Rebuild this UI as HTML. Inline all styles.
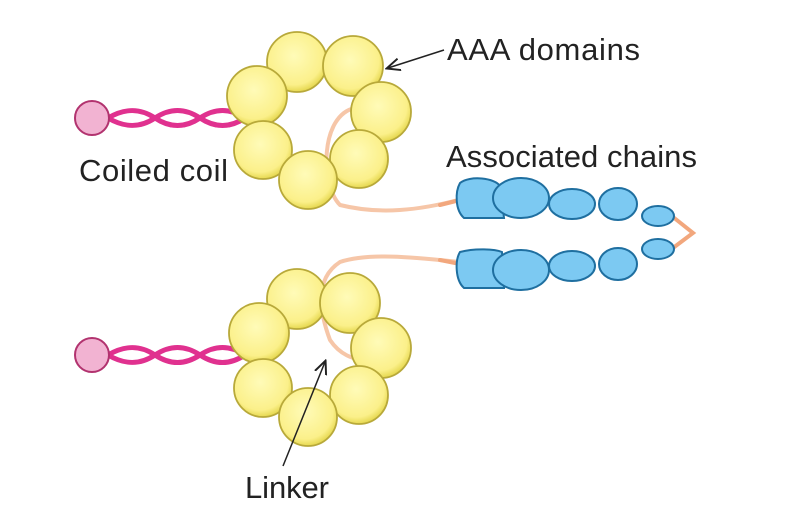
<html><body style="margin:0;background:#fff">
<svg width="787" height="530" viewBox="0 0 787 530" xmlns="http://www.w3.org/2000/svg" font-family="Liberation Sans, sans-serif">
<defs>
<radialGradient id="y" cx="0.45" cy="0.4" r="0.6"><stop offset="0" stop-color="#fffbb8"/><stop offset="0.8" stop-color="#fbf08a"/><stop offset="1" stop-color="#e6d850"/></radialGradient>
<marker id="a" markerWidth="10" markerHeight="10" refX="8" refY="5" orient="auto"><path d="M0,1 L9,5 L0,9" fill="none" stroke="#222" stroke-width="1.3"/></marker>
</defs>
<g fill="none" stroke-linecap="round">
<path d="M355,108 C320,115 320,185 340,205 C380,215 420,210 458,200" stroke="#f6c6a8" stroke-width="4"/>
<path d="M460,262 C420,258 370,252 340,262 C320,275 315,300 330,340 C340,355 355,360 360,358" stroke="#f6c6a8" stroke-width="4"/>
<path d="M440,205 L460,200 M440,260 L460,264 M673,217 L693,233 L673,248" stroke="#f2a77d" stroke-width="4"/>
<g stroke="#e0318f" stroke-width="5">
<path d="M108,118 C125,108 140,108 155,118 S185,128 200,118 S230,108 245,118"/>
<path d="M108,118 C125,128 140,128 155,118 S185,108 200,118 S230,128 245,118"/>
<path d="M108,355 C125,345 140,345 155,355 S185,365 200,355 S230,345 245,355"/>
<path d="M108,355 C125,365 140,365 155,355 S185,345 200,355 S230,365 245,355"/>
</g>
</g>
<g fill="#f2b3d2" stroke="#b2336f" stroke-width="2"><circle cx="92" cy="118" r="17"/><circle cx="92" cy="355" r="17"/></g>
<g fill="url(#y)" stroke="#b8a93a" stroke-width="1.8">
<circle cx="297" cy="62" r="30"/><circle cx="353" cy="66" r="30"/><circle cx="257" cy="96" r="30"/><circle cx="381" cy="112" r="30"/><circle cx="359" cy="159" r="29"/><circle cx="263" cy="150" r="29"/><circle cx="308" cy="180" r="29"/>
<circle cx="297" cy="299" r="30"/><circle cx="350" cy="303" r="30"/><circle cx="259" cy="333" r="30"/><circle cx="381" cy="348" r="30"/><circle cx="359" cy="395" r="29"/><circle cx="263" cy="388" r="29"/><circle cx="308" cy="417" r="29"/>
</g>
<g fill="#7cc9f2" stroke="#1f6fa0" stroke-width="2">
<path d="M460,183 C470,175 495,178 500,186 L504,218 L464,218 C455,210 455,192 460,183Z"/>
<ellipse cx="521" cy="198" rx="28" ry="20"/><ellipse cx="572" cy="204" rx="23" ry="15"/><ellipse cx="618" cy="204" rx="19" ry="16"/><ellipse cx="658" cy="216" rx="16" ry="10"/>
<path d="M460,252 C475,248 495,249 502,252 L504,288 L464,288 C455,280 455,260 460,252Z"/>
<ellipse cx="521" cy="270" rx="28" ry="20"/><ellipse cx="572" cy="266" rx="23" ry="15"/><ellipse cx="618" cy="264" rx="19" ry="16"/><ellipse cx="658" cy="249" rx="16" ry="10"/>
</g>
<g stroke="#222" stroke-width="1.5" fill="none"><line x1="444" y1="50" x2="388" y2="68" marker-end="url(#a)"/><line x1="283" y1="466" x2="325" y2="362" marker-end="url(#a)"/></g>
<g fill="#222" font-size="31"><text x="447" y="60" textLength="193">AAA domains</text><text x="446" y="167" textLength="251">Associated chains</text><text x="79" y="181" textLength="149">Coiled coil</text><text x="245" y="498" textLength="84">Linker</text></g>
</svg>
</body></html>
